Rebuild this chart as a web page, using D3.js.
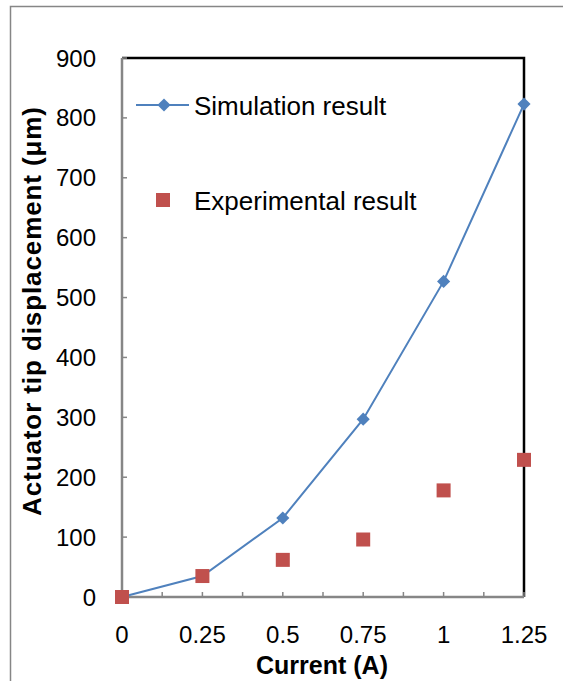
<!DOCTYPE html>
<html>
<head>
<meta charset="utf-8">
<script src="https://cdn.jsdelivr.net/npm/d3@7"></script>
<style>
	body { margin: 0; background: #fff; }
	svg { display: block; font-family: "Liberation Sans", Arial, sans-serif; }
</style>
</head>
<body>
<svg id="chart" width="563" height="681"></svg>
<script>
const currents = [0, 0.25, 0.5, 0.75, 1, 1.25];
const simulation = [0, 35, 132, 297, 527, 823];
const experimental = [0, 35, 62, 96, 178, 229];
const xTickLabels = ['0', '0.25', '0.5', '0.75', '1', '1.25'];
const yTicks = [0, 100, 200, 300, 400, 500, 600, 700, 800, 900];

const blue = '#4F81BD';
const red = '#C0504D';
const axisGray = '#868686';

const svg = d3.select('#chart');
const plotLeft = 122, plotRight = 524, plotTop = 58, plotBottom = 597;

const x = d3.scaleLinear().domain([0, 1.25]).range([plotLeft, plotRight]);
const y = d3.scaleLinear().domain([0, 900]).range([plotBottom, plotTop]);

// outer chart border (runs off the picture on the right and bottom)
svg.append('rect')
	.attr('x', 10.5).attr('y', 6.5)
	.attr('width', 600).attr('height', 700)
	.style('fill', 'none')
	.style('stroke', axisGray)
	.style('stroke-width', 1.5);

// plot area border: top and right black
svg.append('path')
	.attr('d', 'M' + plotLeft + ',' + plotTop + 'H' + plotRight + 'V' + plotBottom)
	.style('fill', 'none')
	.style('stroke', '#000')
	.style('stroke-width', 2.5);

// y ticks (inward)
svg.selectAll('.ytick')
	.data(yTicks)
	.enter().append('line')
	.attr('x1', plotLeft).attr('x2', plotLeft + 5)
	.attr('y1', d => y(d)).attr('y2', d => y(d))
	.style('stroke', axisGray)
	.style('stroke-width', 1.5);

// x ticks (inward, every 0.125)
svg.selectAll('.xtick')
	.data(d3.range(0, 11).map(i => i * 0.125))
	.enter().append('line')
	.attr('x1', d => x(d)).attr('x2', d => x(d))
	.attr('y1', plotBottom).attr('y2', plotBottom - 5)
	.style('stroke', axisGray)
	.style('stroke-width', 1.5);

// left and bottom axes
svg.append('path')
	.attr('d', 'M' + plotLeft + ',' + plotTop + 'V' + plotBottom + 'H' + plotRight)
	.style('fill', 'none')
	.style('stroke', axisGray)
	.style('stroke-width', 2.5);

// y tick labels
svg.selectAll('.ylabel')
	.data(yTicks)
	.enter().append('text')
	.attr('x', 96)
	.attr('y', d => y(d) + 8.5)
	.attr('text-anchor', 'end')
	.style('font-size', '24px')
	.style('fill', '#000')
	.text(d => d);

// x tick labels
svg.selectAll('.xlabel')
	.data(currents)
	.enter().append('text')
	.attr('x', d => x(d))
	.attr('y', 643)
	.attr('text-anchor', 'middle')
	.style('font-size', '24px')
	.style('fill', '#000')
	.text((d, i) => xTickLabels[i]);

// axis titles
svg.append('text')
	.attr('x', 322)
	.attr('y', 674)
	.attr('text-anchor', 'middle')
	.style('font-size', '25px')
	.style('font-weight', 'bold')
	.text('Current (A)');

svg.append('text')
	.attr('transform', 'translate(41,311) rotate(-90)')
	.attr('text-anchor', 'middle')
	.style('font-size', '26px')
	.style('font-weight', 'bold')
	.style('letter-spacing', '0.9px')
	.text('Actuator tip displacement (\u03bcm)');

// simulation line
let line = d3.line()
	.x((d, i) => x(currents[i]))
	.y(d => y(d));

svg.append('path')
	.datum(simulation)
	.attr('d', line)
	.style('fill', 'none')
	.style('stroke', blue)
	.style('stroke-width', 2);

let diamond = d3.symbol().type(d3.symbolDiamond2).size(110);

svg.selectAll('.sim')
	.data(simulation)
	.enter().append('path')
	.attr('d', diamond)
	.attr('transform', (d, i) => 'translate(' + x(currents[i]) + ',' + y(d) + ')')
	.style('fill', blue);

// experimental squares
svg.selectAll('.exp')
	.data(experimental)
	.enter().append('rect')
	.attr('x', (d, i) => x(currents[i]) - 7)
	.attr('y', d => y(d) - 7)
	.attr('width', 14)
	.attr('height', 14)
	.style('fill', red);

// legend
svg.append('line')
	.attr('x1', 136).attr('x2', 189)
	.attr('y1', 105).attr('y2', 105)
	.style('stroke', blue)
	.style('stroke-width', 2);

svg.append('path')
	.attr('d', diamond)
	.attr('transform', 'translate(164,105)')
	.style('fill', blue);

svg.append('rect')
	.attr('x', 156).attr('y', 193)
	.attr('width', 14).attr('height', 14)
	.style('fill', red);

svg.append('text')
	.attr('x', 194).attr('y', 115)
	.style('font-size', '26px')
	.text('Simulation result');

svg.append('text')
	.attr('x', 194).attr('y', 210)
	.style('font-size', '26px')
	.text('Experimental result');
</script>
</body>
</html>
